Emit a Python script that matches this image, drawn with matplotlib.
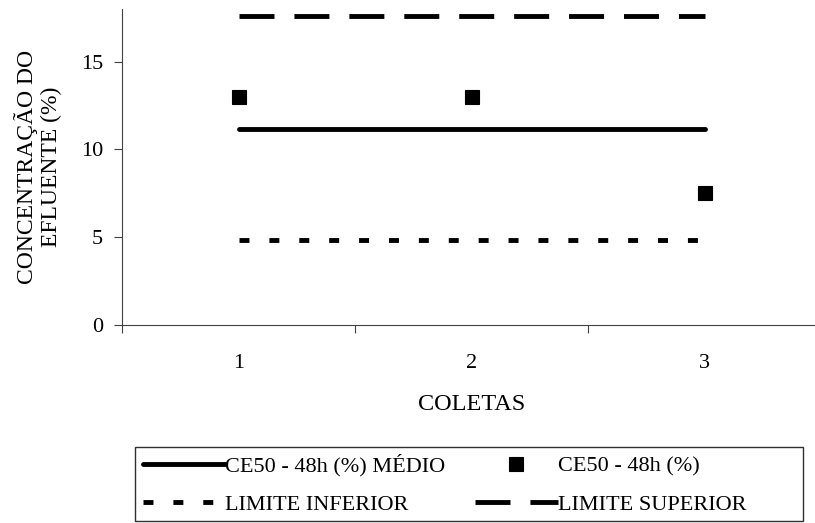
import numpy as np
import matplotlib
matplotlib.use('Agg')
import matplotlib.pyplot as plt
from matplotlib.patches import Rectangle

plt.rcParams['font.family'] = ['Liberation Serif', 'DejaVu Serif']

coletas = [1, 2, 3]
ce50 = [13.0, 13.0, 7.5]
ce50_medio = [11.15, 11.15, 11.15]
limite_inferior = [4.85, 4.85, 4.85]
limite_superior = [17.6, 17.6, 17.6]

fig = plt.figure(figsize=(8.15, 5.23), dpi=100)
ax = fig.add_axes([0.1497, 0.3786, 0.8577, 0.6042])

ax.plot(coletas, ce50_medio, color='black', lw=3.5, solid_capstyle='round',
        label='CE50 - 48h (%) MÉDIO')
ax.plot(coletas, limite_inferior, color='black', lw=3.5, dashes=(2.05, 4.1),
        label='LIMITE INFERIOR')
ax.plot(coletas, ce50, ls='none', marker='s', ms=10, mew=0.8, color='black',
        label='CE50 - 48h (%)')
ax.plot(coletas, limite_superior, color='black', lw=3.5, dashes=(7.2, 4.1),
        label='LIMITE SUPERIOR')

ax.set_xlim(0.5, 3.5)
ax.set_ylim(0, 18)
ax.set_yticks([0, 5, 10, 15])
ax.set_xticks([0.5, 1.5, 2.5, 3.5])
ax.set_xticklabels([])
ax.set_xticks(coletas, minor=True)
ax.set_xticklabels([str(c) for c in coletas], minor=True)
ax.tick_params(axis='x', which='major', direction='out', length=6, color='#404040')
ax.tick_params(axis='x', which='minor', length=0, pad=21, labelsize=16)
ax.tick_params(axis='y', direction='out', length=6, color='#404040', pad=7.5, labelsize=16)

for s in ['top', 'right']:
    ax.spines[s].set_visible(False)
for s in ['left', 'bottom']:
    ax.spines[s].set_color('#404040')

ax.set_xlabel('COLETAS', fontsize=17.5, labelpad=15)
ax.set_ylabel('CONCENTRAÇÃO DO\nEFLUENTE (%)', fontsize=17, labelpad=14,
              linespacing=1.15)

# legend frame drawn separately so it can span the full width
fig.patches.append(Rectangle((135 / 815, 1 - 521 / 523), 668 / 815, 74 / 523,
                             transform=fig.transFigure, fill=False,
                             edgecolor='#303030', lw=1.0))

leg = fig.legend(loc='upper left', ncol=2,
                 bbox_to_anchor=(143 / 815, 1 - 454 / 523),
                 bbox_transform=fig.transFigure, fontsize=16,
                 frameon=False, handlelength=3.7, handletextpad=0.0,
                 borderaxespad=0, borderpad=0, columnspacing=1.35,
                 labelspacing=0.8)

fig.savefig('out.png', dpi=100)
